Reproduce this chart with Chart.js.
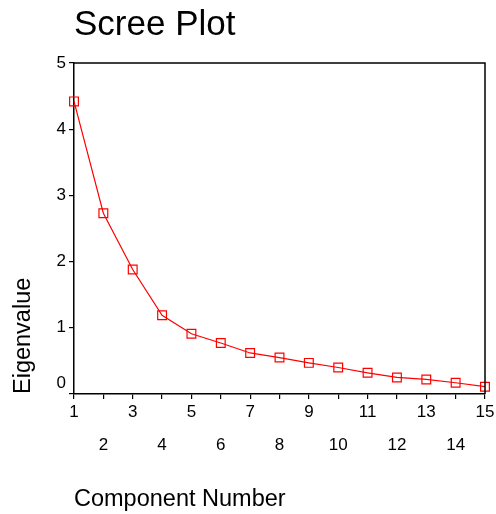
<!DOCTYPE html>
<html>
<head>
<meta charset="utf-8">
<script src="https://cdn.jsdelivr.net/npm/chart.js@4"></script>
<style>
  html, body { margin: 0; padding: 0; background: #fff; }
  #wrap { width: 496px; height: 514px; }
</style>
</head>
<body>
<div id="wrap"><canvas id="c" width="496" height="514"></canvas></div>
<script>
const components = [1, 2, 3, 4, 5, 6, 7, 8, 9, 10, 11, 12, 13, 14, 15];
const eigenvalues = [4.42, 2.73, 1.88, 1.19, 0.91, 0.77, 0.62, 0.55, 0.47, 0.40, 0.32, 0.25, 0.22, 0.17, 0.11];
const yTicks = [0, 1, 2, 3, 4, 5];
const chartTitle = 'Scree Plot';
const xTitle = 'Component Number';
const yTitle = 'Eigenvalue';

const FONT = 'Arial, "Liberation Sans", Helvetica, sans-serif';

const frame = {
  id: 'frame',
  afterDraw(chart) {
    const a = chart.chartArea, ctx = chart.ctx;
    ctx.save();
    ctx.strokeStyle = '#000';
    ctx.lineWidth = 1.5;
    ctx.beginPath();
    ctx.moveTo(a.left, a.top);
    ctx.lineTo(a.right, a.top);
    ctx.lineTo(a.right, a.bottom);
    ctx.stroke();
    ctx.restore();
  }
};

new Chart(document.getElementById('c'), {
  type: 'line',
  data: {
    labels: components,
    datasets: [{
      data: eigenvalues,
      borderColor: '#ff0000',
      borderWidth: 1.2,
      pointStyle: 'rect',
      pointRadius: 6.2,
      pointBorderColor: '#ff0000',
      pointBorderWidth: 1.2,
      pointBackgroundColor: 'rgba(0,0,0,0)',
      tension: 0,
      fill: false
    }]
  },
  plugins: [frame],
  options: {
    responsive: false,
    animation: false,
    events: [],
    layout: { padding: { right: 11, top: 0, left: 0, bottom: 0 } },
    plugins: {
      legend: { display: false },
      tooltip: { enabled: false },
      title: {
        display: true,
        text: chartTitle,
        align: 'start',
        fullSize: false,
        color: '#000',
        font: { family: FONT, size: 35, weight: 'normal', lineHeight: 1.2 },
        padding: { top: 4, bottom: 17 }
      }
    },
    scales: {
      x: {
        type: 'category',
        offset: false,
        afterFit(s) { s.height = 120; },
        border: { display: true, color: '#000', width: 1.5 },
        grid: { display: true, drawOnChartArea: false, drawTicks: true, tickLength: 5, color: '#000', lineWidth: 1.2 },
        ticks: {
          autoSkip: false,
          maxRotation: 0,
          minRotation: 0,
          color: '#000',
          padding: -3,
          font: { family: FONT, size: 17, lineHeight: '33px' },
          callback(value, index) {
            const lab = String(components[index]);
            return components[index] % 2 === 1 ? [lab] : ['', lab];
          }
        },
        title: {
          display: true,
          text: xTitle,
          align: 'start',
          color: '#000',
          font: { family: FONT, size: 23.5, lineHeight: 1.2 },
          padding: { top: 0, bottom: 0 }
        }
      },
      y: {
        min: 0,
        max: 5,
        afterFit(s) { s.width = 74; },
        afterBuildTicks(s) { s.ticks = yTicks.map(v => ({ value: v })); },
        border: { display: true, color: '#000', width: 1.5 },
        grid: { display: true, drawOnChartArea: false, drawTicks: true, tickLength: 5, color: '#000', lineWidth: 1.2 },
        ticks: {
          color: '#000',
          padding: 3,
          font: { family: FONT, size: 17, lineHeight: 1.2 },
          callback(value) { return value === 0 ? ['0', ''] : String(value); }
        },
        title: {
          display: true,
          text: yTitle,
          align: 'start',
          color: '#000',
          font: { family: FONT, size: 23.5, lineHeight: 1.2 },
          padding: { top: 9, bottom: 0 }
        }
      }
    }
  }
});
</script>
</body>
</html>
